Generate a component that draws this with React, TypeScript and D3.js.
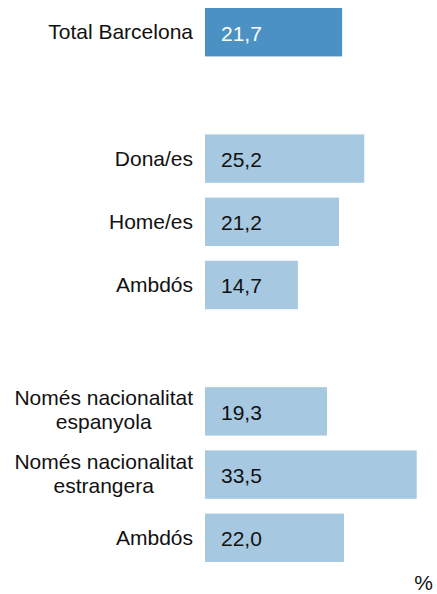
import React from "react";
import * as d3 from "d3";

const slots = ["total", "gap1", "dona", "home", "ambdos1", "gap2", "esp", "estr", "ambdos2"];
const categoryKeys = ["total", "dona", "home", "ambdos1", "esp", "estr", "ambdos2"];
const categoryLabels = [
  "Total Barcelona",
  "Dona/es",
  "Home/es",
  "Ambdós",
  "Només nacionalitat\nespanyola",
  "Només nacionalitat\nestrangera",
  "Ambdós",
];
const values = [21.7, 25.2, 21.2, 14.7, 19.3, 33.5, 22.0];
const highlighted = [true, false, false, false, false, false, false];
const unitLabel = "%";

const W = 437;
const H = 594;
const FONT = "'Liberation Sans', Arial, Helvetica, sans-serif";
const FS = 21;

function measure(text: string): number {
  if (typeof document === "undefined") return text.length * FS * 0.5;
  const c = document.createElement("canvas");
  const ctx = c.getContext("2d");
  if (!ctx) return text.length * FS * 0.5;
  ctx.font = `${FS}px 'Liberation Sans', Arial, sans-serif`;
  return ctx.measureText(text).width;
}

export default function App() {
  const y = d3
    .scaleBand<string>()
    .domain(slots)
    .range([0.6, 0.6 + 63.2 * 9])
    .paddingInner(0.234)
    .paddingOuter(0.117);
  const x = d3.scaleLinear().domain([0, 33.5]).range([205, 416.7]);
  const fmt = (v: number) => v.toFixed(1).replace(".", ",");
  const labelRight = 193;

  return (
    <svg
      width={W}
      height={H}
      style={{ position: "absolute", left: 0, top: 0, background: "#fff" }}
      fontFamily={FONT}
      fontSize={FS}
    >
      {categoryKeys.map((k, i) => {
        const y0 = y(k) as number;
        const bw = y.bandwidth();
        const cy = y0 + bw / 2;
        const lines = categoryLabels[i].split("\n");
        const widest = Math.max(...lines.map(measure));
        const cx = labelRight - widest / 2;
        return (
          <g key={k}>
            <rect
              x={x(0)}
              y={y0}
              width={x(values[i]) - x(0)}
              height={bw}
              fill={highlighted[i] ? "#4b91c4" : "#a6c9e1"}
            />
            <text
              x={x(0) + 16}
              y={cy + 8.4}
              fill={highlighted[i] ? "#ffffff" : "#111"}
            >
              {fmt(values[i])}
            </text>
            {lines.length === 1 ? (
              <text x={labelRight} y={cy + 7.2} textAnchor="end" fill="#111">
                {lines[0]}
              </text>
            ) : (
              <text textAnchor="middle" fill="#111">
                {lines.map((ln, j) => (
                  <tspan key={j} x={cx} y={cy - 6 + j * 24}>
                    {ln}
                  </tspan>
                ))}
              </text>
            )}
          </g>
        );
      })}
      <text x={433} y={590} textAnchor="end" fill="#111">
        {unitLabel}
      </text>
    </svg>
  );
}
